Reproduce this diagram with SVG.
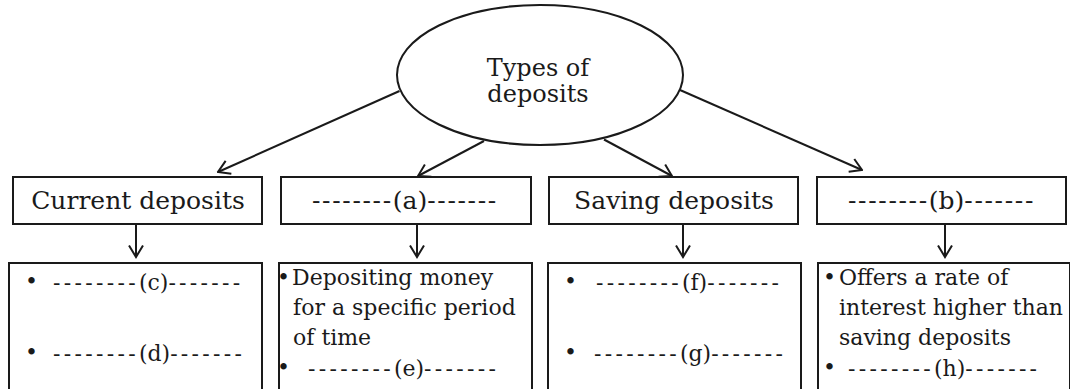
<svg xmlns="http://www.w3.org/2000/svg" width="1070" height="389" viewBox="0 0 1070 389">
  <style>
    .shape { fill: #ffffff; stroke: #1a1a1a; stroke-width: 2; }
    .conn { fill: none; stroke: #1a1a1a; stroke-width: 2; }
    .t { font-family: "DejaVu Serif", "Liberation Serif", serif; fill: #1a1a1a; }
    .big { font-size: 25px; }
    .body { font-size: 22px; }
    .mid { text-anchor: middle; }
    .dt { letter-spacing: 1.65px; }
    .db { letter-spacing: 3.3px; }
    .lbl { letter-spacing: 0px; }
  </style>
  <defs>
    <marker id="ah" viewBox="0 0 14 16" refX="12.5" refY="8" markerWidth="14" markerHeight="16" markerUnits="userSpaceOnUse" orient="auto">
      <path d="M1,1 L12.5,8 L1,15" fill="none" stroke="#1a1a1a" stroke-width="2"/>
    </marker>
  </defs>
  <rect width="1070" height="389" fill="#ffffff"/>

  <g id="connectors">
    <line class="conn" x1="399.5" y1="91" x2="218" y2="172" marker-end="url(#ah)"/>
    <line class="conn" x1="484" y1="141" x2="418" y2="176" marker-end="url(#ah)"/>
    <line class="conn" x1="604" y1="139.5" x2="672" y2="176" marker-end="url(#ah)"/>
    <line class="conn" x1="680" y1="90" x2="862" y2="170" marker-end="url(#ah)"/>
    <line class="conn" x1="136" y1="224" x2="136" y2="257" marker-end="url(#ah)"/>
    <line class="conn" x1="417" y1="224" x2="417" y2="257" marker-end="url(#ah)"/>
    <line class="conn" x1="683" y1="224" x2="683" y2="257" marker-end="url(#ah)"/>
    <line class="conn" x1="945" y1="224" x2="945" y2="257" marker-end="url(#ah)"/>
  </g>

  <g id="root">
    <ellipse class="shape" cx="540" cy="75" rx="143" ry="70"/>
    <text class="t mid" font-size="24" x="538" y="76">Types of</text>
    <text class="t mid" font-size="24" x="538" y="102">deposits</text>
  </g>

  <g id="current">
    <rect class="shape" x="13" y="177" width="249" height="47"/>
    <text class="t big mid" x="138" y="209">Current deposits</text>
  </g>
  <g id="type-a">
    <rect class="shape" x="281" y="177" width="250" height="47"/>
    <text class="t big dt" x="312" y="209">--------<tspan class="lbl">(a)</tspan>-------</text>
  </g>
  <g id="saving">
    <rect class="shape" x="549" y="177" width="249" height="47"/>
    <text class="t big mid" x="674" y="209">Saving deposits</text>
  </g>
  <g id="type-b">
    <rect class="shape" x="817" y="177" width="249" height="47"/>
    <text class="t big dt" x="848" y="209">--------<tspan class="lbl">(b)</tspan>-------</text>
  </g>

  <g id="current-features">
    <rect class="shape" x="9" y="263" width="253" height="140"/>
    <text class="t body" x="25" y="289">•</text>
    <text class="t body db" x="53" y="290">--------<tspan class="lbl">(c)</tspan>-------</text>
    <text class="t body" x="25" y="360">•</text>
    <text class="t body db" x="53" y="361">--------<tspan class="lbl">(d)</tspan>-------</text>
  </g>
  <g id="a-features">
    <rect class="shape" x="279" y="263" width="253" height="140"/>
    <text class="t body" x="277" y="285">•</text>
    <text class="t body" x="292" y="285">Depositing money</text>
    <text class="t body" x="293" y="315">for a specific period</text>
    <text class="t body" x="293" y="345">of time</text>
    <text class="t body" x="277" y="375">•</text>
    <text class="t body db" x="308" y="376">--------<tspan class="lbl">(e)</tspan>-------</text>
  </g>
  <g id="saving-features">
    <rect class="shape" x="548" y="263" width="253" height="140"/>
    <text class="t body" x="564" y="289">•</text>
    <text class="t body db" x="596" y="290">--------<tspan class="lbl">(f)</tspan>-------</text>
    <text class="t body" x="564" y="360">•</text>
    <text class="t body db" x="594" y="361">--------<tspan class="lbl">(g)</tspan>-------</text>
  </g>
  <g id="b-features">
    <rect class="shape" x="818" y="263" width="252" height="140"/>
    <text class="t body" x="823" y="285">•</text>
    <text class="t body" x="839" y="285">Offers a rate of</text>
    <text class="t body" x="839" y="315">interest higher than</text>
    <text class="t body" x="839" y="345">saving deposits</text>
    <text class="t body" x="823" y="375">•</text>
    <text class="t body db" x="848" y="376">--------<tspan class="lbl">(h)</tspan>-------</text>
  </g>
</svg>
